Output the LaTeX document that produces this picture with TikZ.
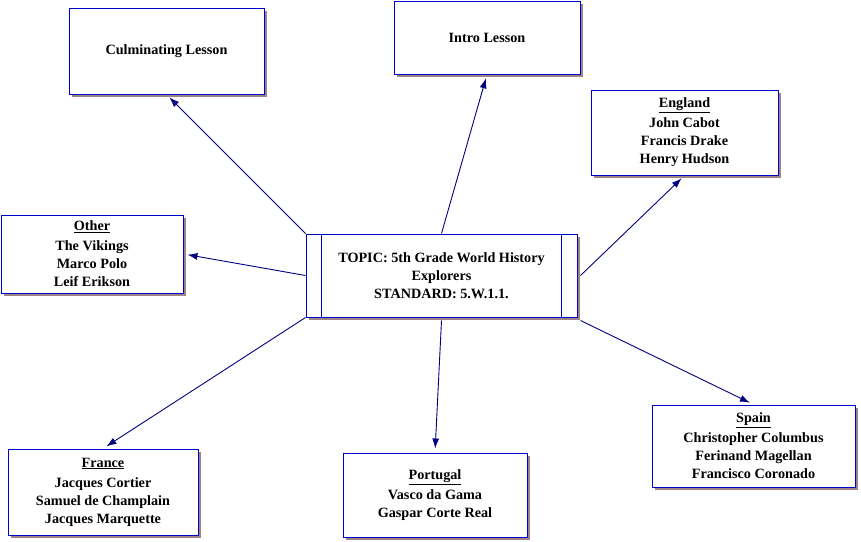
\documentclass[tikz,border=0pt]{standalone}
\usepackage{fontspec}
\setmainfont{Liberation Serif}
\usetikzlibrary{arrows.meta, shadows}
\definecolor{box-border}{HTML}{0000CC}
\definecolor{link}{HTML}{000080}
\definecolor{shade}{HTML}{A08484}
\tikzset{
  topicbox/.style={
    draw=box-border, fill=white, line width=1pt, align=center,
    font=\fontsize{14.2}{18}\selectfont\bfseries, inner sep=0pt,
    general shadow={fill=shade, shadow xshift=3pt, shadow yshift=-3pt}
  },
  link-edge/.style={-{Latex[length=10pt, width=7pt]}, draw=link, line width=0.9pt,
    shorten >=4pt},
  divider/.style={draw=box-border, line width=1pt}
}

\begin{document}
\begin{tikzpicture}[x=1pt, y=-1pt]
  \useasboundingbox (0,0) rectangle (861,541);

  % ---- Central topic -------------------------------------------------------
  \node[topicbox, minimum width=271pt, minimum height=83pt] (topic) at (441.5, 275.5)
        {TOPIC: 5th Grade World History\\Explorers\\STANDARD: 5.W.1.1.};
  \draw[divider] ([xshift=16pt]topic.north west) -- ([xshift=16pt]topic.south west);
  \draw[divider] ([xshift=-16pt]topic.north east) -- ([xshift=-16pt]topic.south east);

  % ---- Lessons -------------------------------------------------------------
  \node[topicbox, minimum width=195pt, minimum height=86pt] (culminating) at (166.5, 51)
        {Culminating Lesson};
  \node[topicbox, minimum width=186pt, minimum height=73pt] (intro) at (487, 37.5)
        {Intro Lesson};

  % ---- Countries -----------------------------------------------------------
  \node[topicbox, minimum width=187pt, minimum height=85pt] (england) at (684.5, 132.5)
        {\underline{England}\\[2pt]John Cabot\\Francis Drake\\Henry Hudson};
  \node[topicbox, minimum width=182pt, minimum height=78pt] (other) at (92, 254)
        {\underline{Other}\\[2pt]The Vikings\\Marco Polo\\Leif Erikson};
  \node[topicbox, minimum width=190pt, minimum height=86pt] (france) at (103, 492)
        {\underline{France}\\[2pt]Jacques Cortier\\Samuel de Champlain\\Jacques Marquette};
  \node[topicbox, minimum width=184pt, minimum height=84pt] (portugal) at (435, 495)
        {\underline{Portugal}\\[2pt]Vasco da Gama\\Gaspar Corte Real};
  \node[topicbox, minimum width=203pt, minimum height=82pt] (spain) at (753.5, 446)
        {\underline{Spain}\\[2pt]Christopher Columbus\\Ferinand Magellan\\Francisco Coronado};

  % ---- Links from the topic ------------------------------------------------
  \draw[link-edge] (topic.north west) -- (culminating.south);
  \draw[link-edge] (topic.north) -- (intro.south);
  \draw[link-edge] ([xshift=3pt]topic.east) -- (england.south);
  \draw[link-edge] (topic.west) -- (other.east);
  \draw[link-edge] (topic.south west) -- (france.north);
  \draw[link-edge] ([yshift=-3pt]topic.south) -- (portugal.north);
  \draw[link-edge] ([shift={(3pt,-3pt)}]topic.south east) -- (spain.north);

\end{tikzpicture}
\end{document}
